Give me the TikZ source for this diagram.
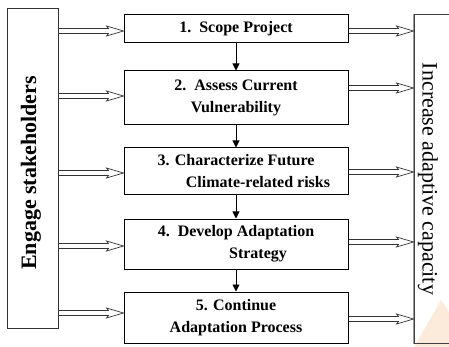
\documentclass[tikz,border=0pt]{standalone}
\usepackage{fontspec}
\setmainfont{Liberation Serif}
\usetikzlibrary{arrows.meta,calc}
\definecolor{wmark}{RGB}{252,234,218}
\begin{document}
\begin{tikzpicture}[x=1pt,y=-1pt,
  stepbox/.style={draw=black, line width=1pt, minimum width=224pt, align=center,
    font=\bfseries\fontsize{16}{22}\selectfont, inner sep=0pt},
  sidebox/.style={line width=1pt, inner sep=0pt},
  flow/.style={line width=0.9pt, -{Triangle[length=7pt,width=7pt]}},
  dbl/.style={draw=black!80, line width=0.7pt, line join=miter,
    to path={($(\tikztostart)+(0,-2.5)$) -- ($(\tikztotarget)+(-15,-2.5)$)
      -- ($(\tikztotarget)+(-17,-5)$) -- (\tikztotarget)
      -- ($(\tikztotarget)+(-17,5)$) -- ($(\tikztotarget)+(-15,2.5)$)
      -- ($(\tikztostart)+(0,2.5)$)}}]
\useasboundingbox (0,0) rectangle (449,347);
\fill[wmark] (414,347) -- (441,300) -- (449,312) -- (449,347) -- cycle;

\node[sidebox, draw=black!80, minimum width=51pt, minimum height=319pt] (L) at (32.5,168.5) {};
\node[rotate=90, font=\bfseries\fontsize{22}{22}\selectfont] (Lt) at (31,173) {Engage stakeholders};
\node[sidebox, draw=black!75, minimum width=40pt, minimum height=328pt] (R) at (434,179) {};
\draw[line width=1pt, black!40] (R.north west) -- (R.south west);
\node[rotate=-90, font=\fontsize{22}{22}\selectfont] (Rt) at (428,179) {Increase adaptive capacity};

\node[stepbox, minimum height=28pt] (b1) at (236,29) {1.\ \ Scope Project};
\node[stepbox, minimum height=54pt] (b2) at (236,98) {2.\ \ Assess Current\\Vulnerability};
\node[stepbox, minimum height=47pt] (b3) at (236,171.5) {3. Characterize Future\\\hspace*{44pt}Climate-related risks};
\node[stepbox, minimum height=50pt] (b4) at (236,244) {4.\ \ Develop Adaptation\\\hspace*{44pt}Strategy};
\node[stepbox, minimum height=51pt] (b5) at (236,317.5) {5. Continue\\Adaptation Process};

\draw[flow] (b1) -- (b2);
\draw[flow] (b2) -- (b3);
\draw[flow] (b3) -- (b4);
\draw[flow] (b4) -- (b5);

\coordinate (l1) at ($(b1.west)+(0,2)$);
\coordinate (l2) at ($(b2.west)+(0,-2)$);
\coordinate (l3) at ($(b3.west)+(0,1.5)$);
\coordinate (l4) at ($(b4.west)+(0,2)$);
\coordinate (l5) at ($(b5.west)+(0,-4.5)$);
\coordinate (r1) at ($(b1.east)+(0,2)$);
\coordinate (r2) at ($(b2.east)+(0,-10)$);
\coordinate (r3) at ($(b3.east)+(0,0.5)$);
\coordinate (r4) at ($(b4.east)+(0,-2)$);
\coordinate (r5) at ($(b5.east)+(0,1.5)$);
\foreach \i in {1,...,5}{
  \draw[dbl] (L.east |- l\i) to (l\i);
  \draw[dbl] (r\i) to (R.west |- r\i);
}
\end{tikzpicture}
\end{document}
